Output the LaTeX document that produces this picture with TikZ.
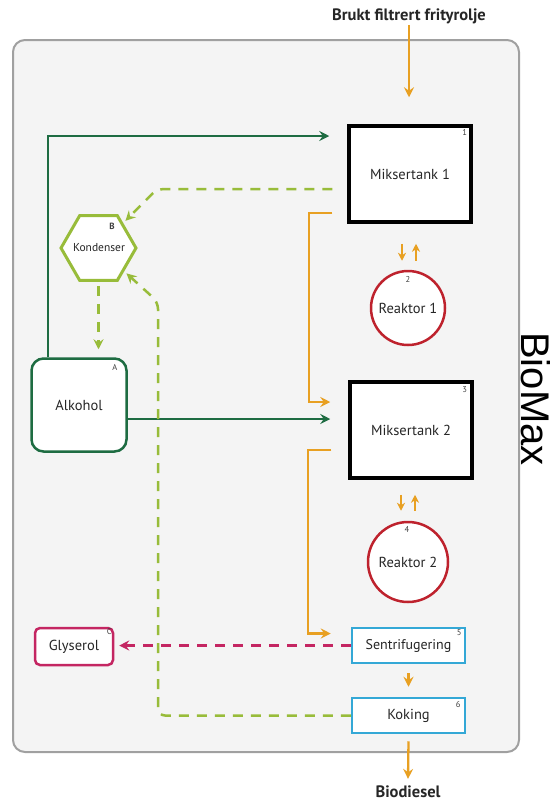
\documentclass[tikz,border=0pt]{standalone}
\usepackage{fontspec}
\setmainfont{PT Sans}
\newfontfamily\biofont{Liberation Sans}
\usetikzlibrary{arrows.meta,shapes.geometric,calc}
\definecolor{dgreen}{RGB}{30,108,66}
\definecolor{lgreen}{RGB}{152,188,58}
\definecolor{oran}{RGB}{232,160,34}
\definecolor{rred}{RGB}{190,34,45}
\definecolor{mag}{RGB}{196,38,98}
\definecolor{bblue}{RGB}{52,168,214}
\definecolor{framecol}{RGB}{160,160,160}
\definecolor{framefill}{RGB}{244,244,244}
\begin{document}
\begin{tikzpicture}[x=1pt,y=-1pt,
  tipa/.style={-{Stealth[length=10pt,width=10pt,inset=3.5pt]}},
  tipsmall/.style={-{Stealth[length=8pt,width=8pt,inset=2.5pt]}},
  lbl/.style={font=\fontsize{14.5}{16}\selectfont, text=black!85},
  idx/.style={font=\fontsize{8.5}{9}\selectfont, text=black!75, inner sep=0pt},
  tank/.style={lbl, draw=black, line width=3.5pt, fill=white, minimum width=122pt, minimum height=96pt, inner sep=0pt},
  reactor/.style={lbl, circle, draw=rred, line width=2.5pt, fill=white, inner sep=0pt},
  bluebox/.style={lbl, draw=bblue, line width=2.5pt, fill=white, minimum width=113pt, minimum height=35pt, inner sep=0pt},
  orangeline/.style={draw=oran, line width=2.3pt, tipa},
  greenline/.style={draw=dgreen, line width=2.3pt, tipa},
  lgdash/.style={draw=lgreen, line width=2.5pt, dash pattern=on 10pt off 8pt, tipa},
  magdash/.style={draw=mag, line width=2.5pt, dash pattern=on 10pt off 8pt, tipa},
  boldlbl/.style={font=\bfseries\fontsize{16.5}{18}\selectfont, text=black!85, inner sep=1pt}
]
\useasboundingbox (0,0) rectangle (558,801);
\fill[white] (0,0) rectangle (558,801);
\draw[draw=framecol, fill=framefill, line width=2pt, rounded corners=12pt] (13,40) rectangle (519,752);

% title and output labels
\node[boldlbl] (in) at (409,16) {Brukt filtrert frityrolje};
\node[boldlbl] (bio) at (408,792) {Biodiesel};
\node[font=\biofont\fontsize{40}{44}\selectfont, rotate=-90, inner sep=0pt] (biomax) at (536,399) {BioMax};

% process nodes
\node[tank] (mt1) at (410,174) {Miksertank 1};
\node[tank] (mt2) at (411,430) {Miksertank 2};
\node[reactor, minimum size=74pt] (r1) at (408,308) {Reaktor 1};
\node[reactor, minimum size=80pt] (r2) at (408,562) {Reaktor 2};
\node[bluebox, font=\fontsize{14}{16}\selectfont] (sent) at (408.5,645.5) {Sentrifugering};
\node[bluebox] (kok) at (408.5,715.5) {Koking};
\node[lbl, draw=mag, line width=2.5pt, fill=white, rounded corners=5pt, minimum width=78pt, minimum height=37pt, inner sep=0pt] (gly) at (74,646.5) {Glyserol};
\node[lbl, draw=dgreen, line width=2.5pt, fill=white, rounded corners=12pt, minimum width=95pt, minimum height=93pt, inner sep=0pt] (alk) at (79,405) {\raisebox{-3pt}{Alkohol}};
\node[regular polygon, regular polygon sides=6, draw=lgreen, line width=3pt, fill=white, minimum size=75pt, inner sep=0pt] (kond) at (98.5,248) {};
\node[font=\fontsize{11.5}{13}\selectfont, text=black!85, inner sep=0pt] (kondtxt) at (99,248) {Kondenser};

% indices
\node[idx] at ($(mt1.north east)+(-8,8)$) {1};
\node[idx] at ($(r1.north)+(0,10)$) {2};
\node[idx] at ($(mt2.north east)+(-9,9)$) {3};
\node[idx] at ($(r2.north)+(-1,9)$) {4};
\node[idx] at ($(sent.north east)+(-7,6)$) {5};
\node[idx] at ($(kok.north east)+(-8,8)$) {6};
\node[idx] at ($(alk.north east)+(-13,10)$) {A};
\node[idx, font=\bfseries\fontsize{9}{10}\selectfont] at (112,226) {B};
\node[idx] at ($(gly.north east)+(-5,5)$) {C};

% orange flow
\draw[orangeline] (in.south) -- ($(mt1.north)+(-1,-27)$);
\draw[orangeline] ($(mt1.west)+(-15,39)$) -- ++(-23,0) |- ($(mt2.west)+(-18,-28)$);
\draw[orangeline] ($(mt2.west)+(-17,20)$) -- ++(-23,0) |- ($(sent.west)+(-20,-12)$);
\draw[orangeline, tipsmall] ($(r1.north)+(-6,-26)$) -- ($(r1.north)+(-6,-9)$);
\draw[orangeline, tipsmall] ($(r1.north)+(8,-9)$) -- ($(r1.north)+(8,-26)$);
\draw[orangeline, tipsmall] ($(r2.north)+(-7,-26)$) -- ($(r2.north)+(-7,-10)$);
\draw[orangeline, tipsmall] ($(r2.north)+(7,-10)$) -- ($(r2.north)+(7,-26)$);
\draw[orangeline] ($(sent.south)+(0,9)$) -- ($(kok.north)+(0,-10)$);
\draw[orangeline] ($(kok.south)+(0,7)$) -- ($(bio.north)+(0,-6)$);

% green flow
\draw[greenline] ($(alk.north west)+(18,0)$) |- ($(mt1.west)+(-18,-38)$);
\draw[greenline] ($(alk.east)+(0,14)$) -- ($(mt2.west)+(-18,-11)$);

% light green dashed
\coordinate (tbend) at (157,189);
\coordinate (kbend) at (158,302);
\draw[lgdash, rounded corners=7pt, shorten >=3pt] ($(mt1.west)+(-15,15)$) -- (tbend) -- (kond);
\draw[lgdash, rounded corners=7pt, shorten >=3pt] (kok.west) -| (kbend) -- (kond);
\draw[lgdash, shorten <=4pt, shorten >=8pt] (kond.south) -- (kond.south |- alk.north);

% magenta dashed
\draw[magdash, shorten >=5pt] (sent.west) -- (sent.west -| gly.east);
\end{tikzpicture}
\end{document}
